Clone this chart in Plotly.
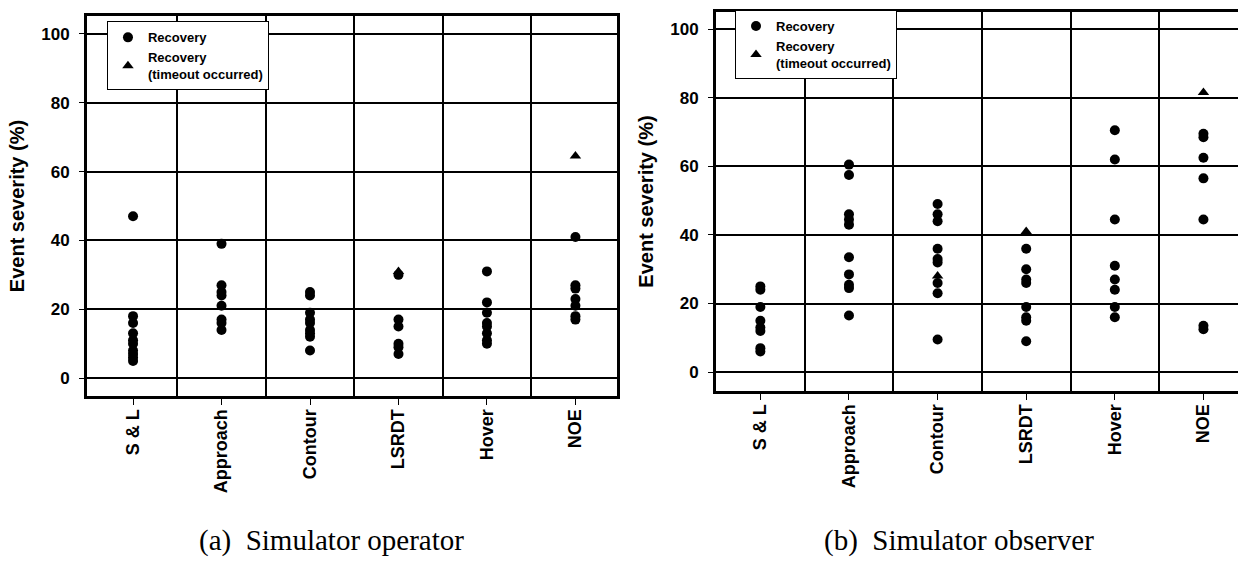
import plotly.graph_objects as go

CATEGORIES = ["S & L", "Approach", "Contour", "LSRDT", "Hover", "NOE"]
Y_TICKS = [0, 20, 40, 60, 80, 100]

# (a) simulator operator, one list per category (same order as CATEGORIES)
OPERATOR_RECOVERY = [
    [47, 18, 16, 13, 11, 10, 8, 7, 6, 5],
    [39, 27, 25, 24, 21, 17, 16, 14],
    [25, 24, 19, 17, 16, 14, 13, 12, 8],
    [30, 17, 15, 10, 9, 7],
    [31, 22, 19, 16, 15, 13, 11, 10],
    [41, 27, 26, 23, 21, 18, 17],
]
OPERATOR_TIMEOUT_CATS = ["LSRDT", "NOE"]
OPERATOR_TIMEOUT_VALS = [31, 64.5]

# (b) simulator observer
OBSERVER_RECOVERY = [
    [25, 24, 19, 15, 13, 12, 7, 6],
    [60.5, 57.5, 46, 44.5, 43, 33.5, 28.5, 25.5, 24.5, 16.5],
    [49, 46, 44, 36, 33, 32, 26, 23, 9.5],
    [36, 30, 27, 26, 19, 16, 15, 9],
    [70.5, 62, 44.5, 31, 27, 24, 19, 16],
    [69.5, 68.5, 62.5, 56.5, 44.5, 13.5, 12.5],
]
OBSERVER_TIMEOUT_CATS = ["Contour", "LSRDT", "NOE"]
OBSERVER_TIMEOUT_VALS = [28, 41, 81.5]

SANS = "Liberation Sans, Arial, sans-serif"
SERIF = "Liberation Serif, Times New Roman, serif"
BLACK = "#000000"


def _flatten(groups):
    xs, ys = [], []
    for i, vals in enumerate(groups):
        xs += [i] * len(vals)
        ys += vals
    return xs, ys


def add_panel(fig, recovery, to_cats, to_vals, xaxis, yaxis, legend):
    xs, ys = _flatten(recovery)
    fig.add_trace(go.Scatter(
        x=xs, y=ys, mode="markers", name="Recovery",
        marker=dict(symbol="circle", size=10, color=BLACK),
        xaxis=xaxis, yaxis=yaxis, legend=legend,
    ))
    fig.add_trace(go.Scatter(
        x=[CATEGORIES.index(c) for c in to_cats], y=to_vals, mode="markers",
        name="Recovery<br>(timeout occurred)",
        marker=dict(symbol="triangle-up", size=10, color=BLACK),
        xaxis=xaxis, yaxis=yaxis, legend=legend,
    ))


fig = go.Figure()
add_panel(fig, OPERATOR_RECOVERY, OPERATOR_TIMEOUT_CATS, OPERATOR_TIMEOUT_VALS, "x", "y", "legend")
add_panel(fig, OBSERVER_RECOVERY, OBSERVER_TIMEOUT_CATS, OBSERVER_TIMEOUT_VALS, "x2", "y2", "legend2")

tick_font = dict(family=SANS, size=17, color=BLACK, weight="bold")
cat_font = dict(family=SANS, size=18, color=BLACK, weight="bold")
grid = dict(showgrid=True, gridcolor=BLACK, gridwidth=1.5)


def xaxis_cfg(domain, rng, anchor):
    return dict(
        domain=domain, range=rng, anchor=anchor,
        tickmode="array", tickvals=list(range(len(CATEGORIES))), ticktext=CATEGORIES,
        tickangle=-90, tickfont=cat_font, ticks="outside", ticklen=6, tickcolor=BLACK,
        ticklabelstandoff=-3,
        showgrid=False, zeroline=False,
        minor=dict(tickvals=[i + 0.5 for i in range(len(CATEGORIES) - 1)],
                   showgrid=True, gridcolor=BLACK, gridwidth=1.5, ticks=""),
        showline=True, linecolor=BLACK, linewidth=3, mirror=True,
    )


def yaxis_cfg(domain, rng, anchor, mirror):
    return dict(
        domain=domain, range=rng, anchor=anchor,
        tickmode="array", tickvals=Y_TICKS, tickfont=tick_font,
        ticks="outside", ticklen=5, tickcolor=BLACK, ticklabelstandoff=6,
        zeroline=False, **grid,
        showline=True, linecolor=BLACK, linewidth=3, mirror=mirror,
        title=dict(text="Event severity (%)", standoff=12,
                   font=dict(family=SANS, size=20, color=BLACK, weight="bold")),
    )


legend_common = dict(
    bgcolor="white", bordercolor=BLACK, borderwidth=1,
    font=dict(family=SANS, size=13, color=BLACK, weight="bold"),
    xanchor="left", yanchor="top", tracegroupgap=0, itemwidth=30,
)

fig.update_layout(
    width=1238, height=563,
    margin=dict(l=0, r=0, t=0, b=0),
    paper_bgcolor="white", plot_bgcolor="white",
    xaxis=xaxis_cfg([0.0703, 0.4984], [-0.52, 5.47], "y"),
    yaxis=yaxis_cfg([0.2966, 0.9716], [-5.2, 105.2], "x", True),
    xaxis2=xaxis_cfg([0.5784, 1.0], [-0.5, 5.39], "y2"),
    yaxis2=yaxis_cfg([0.3055, 0.9787], [-5.5, 105], "x2", False),
    legend=dict(x=0.0864, y=0.962, **legend_common),
    legend2=dict(x=0.5937, y=0.982, **legend_common),
    annotations=[
        dict(text="(a)  Simulator operator", x=0.268, y=0.04, xref="paper", yref="paper",
             xanchor="center", yanchor="middle", showarrow=False,
             font=dict(family=SERIF, size=29, color=BLACK)),
        dict(text="(b)  Simulator observer", x=0.775, y=0.04, xref="paper", yref="paper",
             xanchor="center", yanchor="middle", showarrow=False,
             font=dict(family=SERIF, size=29, color=BLACK)),
    ],
)

# drop the browser's default 8px body margin so the figure sits at the page origin
fig.write_html("out.html", config={"displayModeBar": False},
               post_script="document.body.style.margin='0';")
